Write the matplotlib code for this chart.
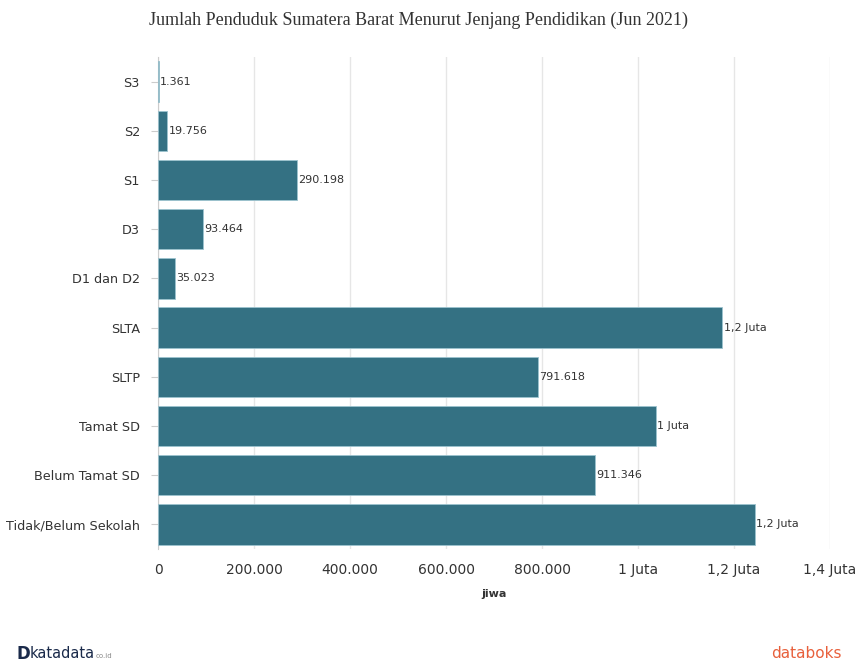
import matplotlib
matplotlib.use("Agg")
import matplotlib.pyplot as plt
from matplotlib.ticker import FixedLocator

# data (Jun 2021)
categories = ["S3", "S2", "S1", "D3", "D1 dan D2", "SLTA", "SLTP",
              "Tamat SD", "Belum Tamat SD", "Tidak/Belum Sekolah"]
values = [1361, 19756, 290198, 93464, 35023, 1176000, 791618,
          1037000, 911346, 1244000]
bar_labels = ["1.361", "19.756", "290.198", "93.464", "35.023", "1,2 Juta",
              "791.618", "1 Juta", "911.346", "1,2 Juta"]
xticks = [0, 200000, 400000, 600000, 800000, 1000000, 1200000, 1400000]
xtick_labels = ["0", "200.000", "400.000", "600.000", "800.000",
                "1 Juta", "1,2 Juta", "1,4 Juta"]

bar_color = "#347183"

fig = plt.figure(figsize=(8.55, 6.62), dpi=100)
ax = fig.add_axes([158 / 855, 1 - 549 / 662, (830 - 158) / 855, (549 - 57) / 662])

y = list(range(len(categories)))
ax.barh(y, values, height=0.82, color=bar_color, edgecolor="#9cc3cf", linewidth=0.6, zorder=3)
for yi, v, lab in zip(y, values, bar_labels):
    ax.text(v + 2500, yi, lab, va="center", ha="left", fontsize=8,
            color="#333333", family="DejaVu Sans", zorder=4)

ax.set_ylim(len(categories) - 0.5, -0.5)
ax.set_xlim(0, 1400000)
ax.xaxis.set_major_locator(FixedLocator(xticks))
ax.set_xticklabels(xtick_labels, fontsize=10, color="#333333", family="DejaVu Sans")
ax.set_yticks(y)
ax.set_yticklabels(categories, fontsize=9.2, color="#333333", family="DejaVu Sans")
ax.tick_params(axis="x", length=0, pad=10)
ax.tick_params(axis="y", length=5, color="#cccccc", pad=8)

ax.grid(axis="x", color="#e6e6e6", linewidth=1, zorder=0)
for s in ["top", "right", "bottom"]:
    ax.spines[s].set_visible(False)
ax.spines["left"].set_color("#cccccc")

ax.set_xlabel("jiwa", fontsize=8, fontweight="bold", color="#333333", labelpad=9)

fig.text(0.49, 1 - 20 / 662, "Jumlah Penduduk Sumatera Barat Menurut Jenjang Pendidikan (Jun 2021)",
         ha="center", va="center", fontsize=13, family="Liberation Serif", color="#333333")

# footer brand marks
fig.text(16 / 855, 1 - 654 / 662, "D", ha="left", va="center", fontsize=12,
         fontweight="bold", color="#1a2a4a")
fig.text(30 / 855, 1 - 654 / 662, "katadata", ha="left", va="center", fontsize=10.5,
         color="#1a2a4a")
fig.text(96 / 855, 1 - 656 / 662, "co.id", ha="left", va="center", fontsize=5,
         color="#888888")
fig.text(842 / 855, 1 - 654 / 662, "databoks", ha="right", va="center", fontsize=11,
         color="#e8603c")

fig.savefig("out.png", dpi=100, facecolor="white")
